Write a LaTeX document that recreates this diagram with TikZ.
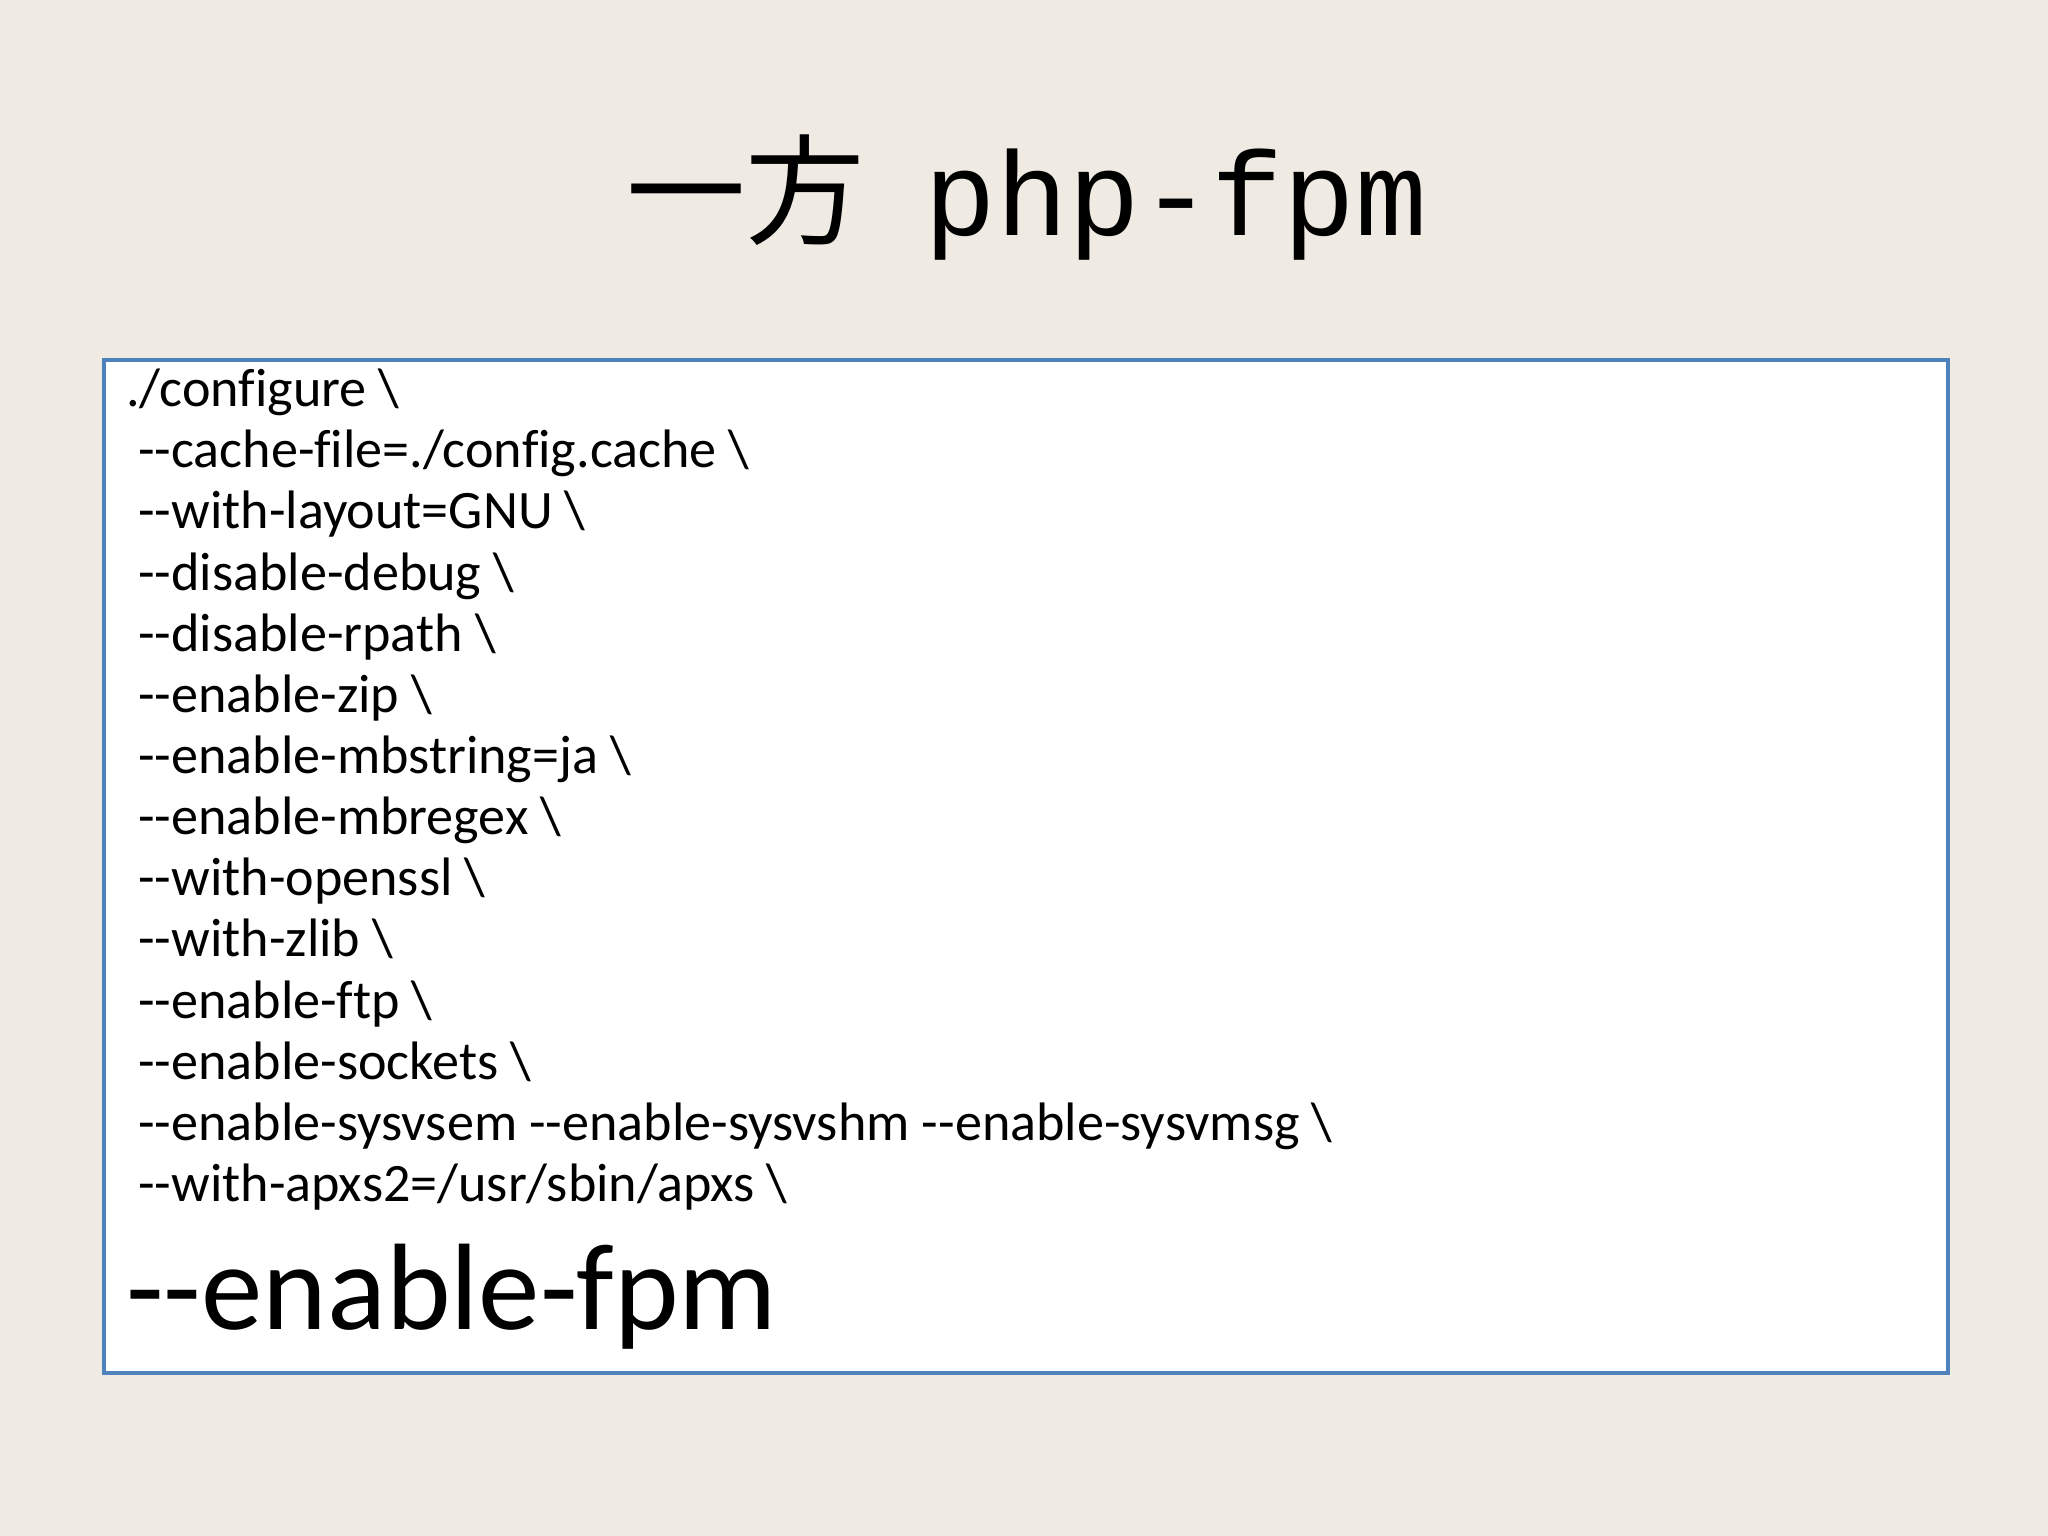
\documentclass[tikz,border=0pt]{standalone}
\usepackage{fontspec}
\setmainfont{Carlito}[Ligatures={TeXOff,CommonOff}]
\newfontfamily\cjk{Noto Sans CJK JP}
\newfontfamily\monof{Liberation Mono}
\definecolor{bg}{HTML}{EFEBE3}
\definecolor{frame}{HTML}{4F81BD}
\begin{document}
\begin{tikzpicture}[x=0.01306cm,y=-0.01306cm]
\fill[bg] (0,0) rectangle (1568,1176);
\useasboundingbox (0,0) rectangle (1568,1176);
\node[anchor=base,font=\fontsize{34}{40}\selectfont] (title) at (786,180) {{\cjk 一方}\hspace{0.5em}{\monof php-fpm}};
\node[draw=frame,fill=white,line width=1.1pt,minimum width=1412*0.01306cm,minimum height=776*0.01306cm,anchor=north west] (box) at (78,274) {};
\node[anchor=north west,align=left,inner sep=0pt,font=\fontsize{15.4}{17.4}\selectfont] (code) at (96,282) {%
./configure \textbackslash\\
\ --cache-file=./config.cache \textbackslash\\
\ --with-layout=GNU \textbackslash\\
\ --disable-debug \textbackslash\\
\ --disable-rpath \textbackslash\\
\ --enable-zip \textbackslash\\
\ --enable-mbstring=ja \textbackslash\\
\ --enable-mbregex \textbackslash\\
\ --with-openssl \textbackslash\\
\ --with-zlib \textbackslash\\
\ --enable-ftp \textbackslash\\
\ --enable-sockets \textbackslash\\
\ --enable-sysvsem --enable-sysvshm --enable-sysvmsg \textbackslash\\
\ --with-apxs2=/usr/sbin/apxs \textbackslash};
\node[anchor=base west,inner sep=0pt,font=\fontsize{35}{38}\selectfont] (fpm) at (96,1018) {--enable-fpm};
\end{tikzpicture}
\end{document}
